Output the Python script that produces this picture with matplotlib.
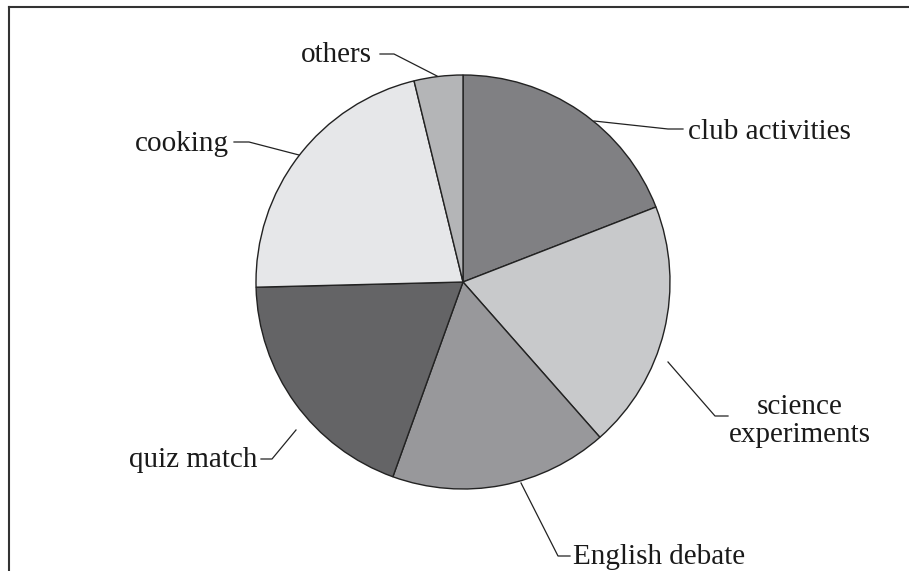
import matplotlib.pyplot as plt
from matplotlib.lines import Line2D

plt.rcParams['font.family'] = ['Liberation Serif', 'DejaVu Serif']

# shares in percent, clockwise from 12 o'clock
labels = ['club activities', 'science\nexperiments', 'English debate',
          'quiz match', 'cooking', 'others']
values = [19.1, 19.4, 17.0, 19.1, 21.6, 3.8]
colors = ['#808083', '#c8c9cb', '#98989b', '#646466', '#e6e7e9', '#b4b5b7']

W, H = 909, 571
fig = plt.figure(figsize=(W / 100, H / 100), dpi=100)
ax = fig.add_axes([0, 0, 1, 1])

cx, cy, r = 463, H - 282, 207
ax.pie(values, colors=colors, startangle=90, counterclock=False,
       center=(cx, cy), radius=r, frame=True,
       wedgeprops=dict(edgecolor='#222222', linewidth=1.0))
ax.set_xlim(0, W)
ax.set_ylim(0, H)
ax.set_aspect('equal')
ax.axis('off')

# outer frame (only top and left edges are inside the picture)
fig.add_artist(Line2D([9 / W, 1], [1 - 7 / H, 1 - 7 / H], color='#333333', lw=1.5))
fig.add_artist(Line2D([9 / W, 9 / W], [0, 1 - 7 / H], color='#333333', lw=1.5))

# text position, alignment, leader line (pie side -> elbow -> text side)
label_specs = [
    ((688, 132), 'left', [(594, 121), (668, 129), (683, 129)]),
    ((800, 421), 'center', [(668, 362), (715, 416), (728, 416)]),
    ((573, 557), 'left', [(521, 483), (558, 556), (570, 556)]),
    ((257, 460), 'right', [(296, 430), (272, 459), (261, 459)]),
    ((229, 144), 'right', [(299, 155), (249, 142), (234, 142)]),
    ((372, 55), 'right', [(437, 76), (394, 54), (380, 54)]),
]

for txt, ((tx, ty), ha, pts) in zip(labels, label_specs):
    ax.text(tx, H - ty, txt, ha=ha, va='center', fontsize=21,
            color='#1a1a1a', linespacing=1.15)
    ax.plot([p[0] for p in pts], [H - p[1] for p in pts],
            color='#222222', lw=0.9)

fig.savefig('out.png', dpi=100)
